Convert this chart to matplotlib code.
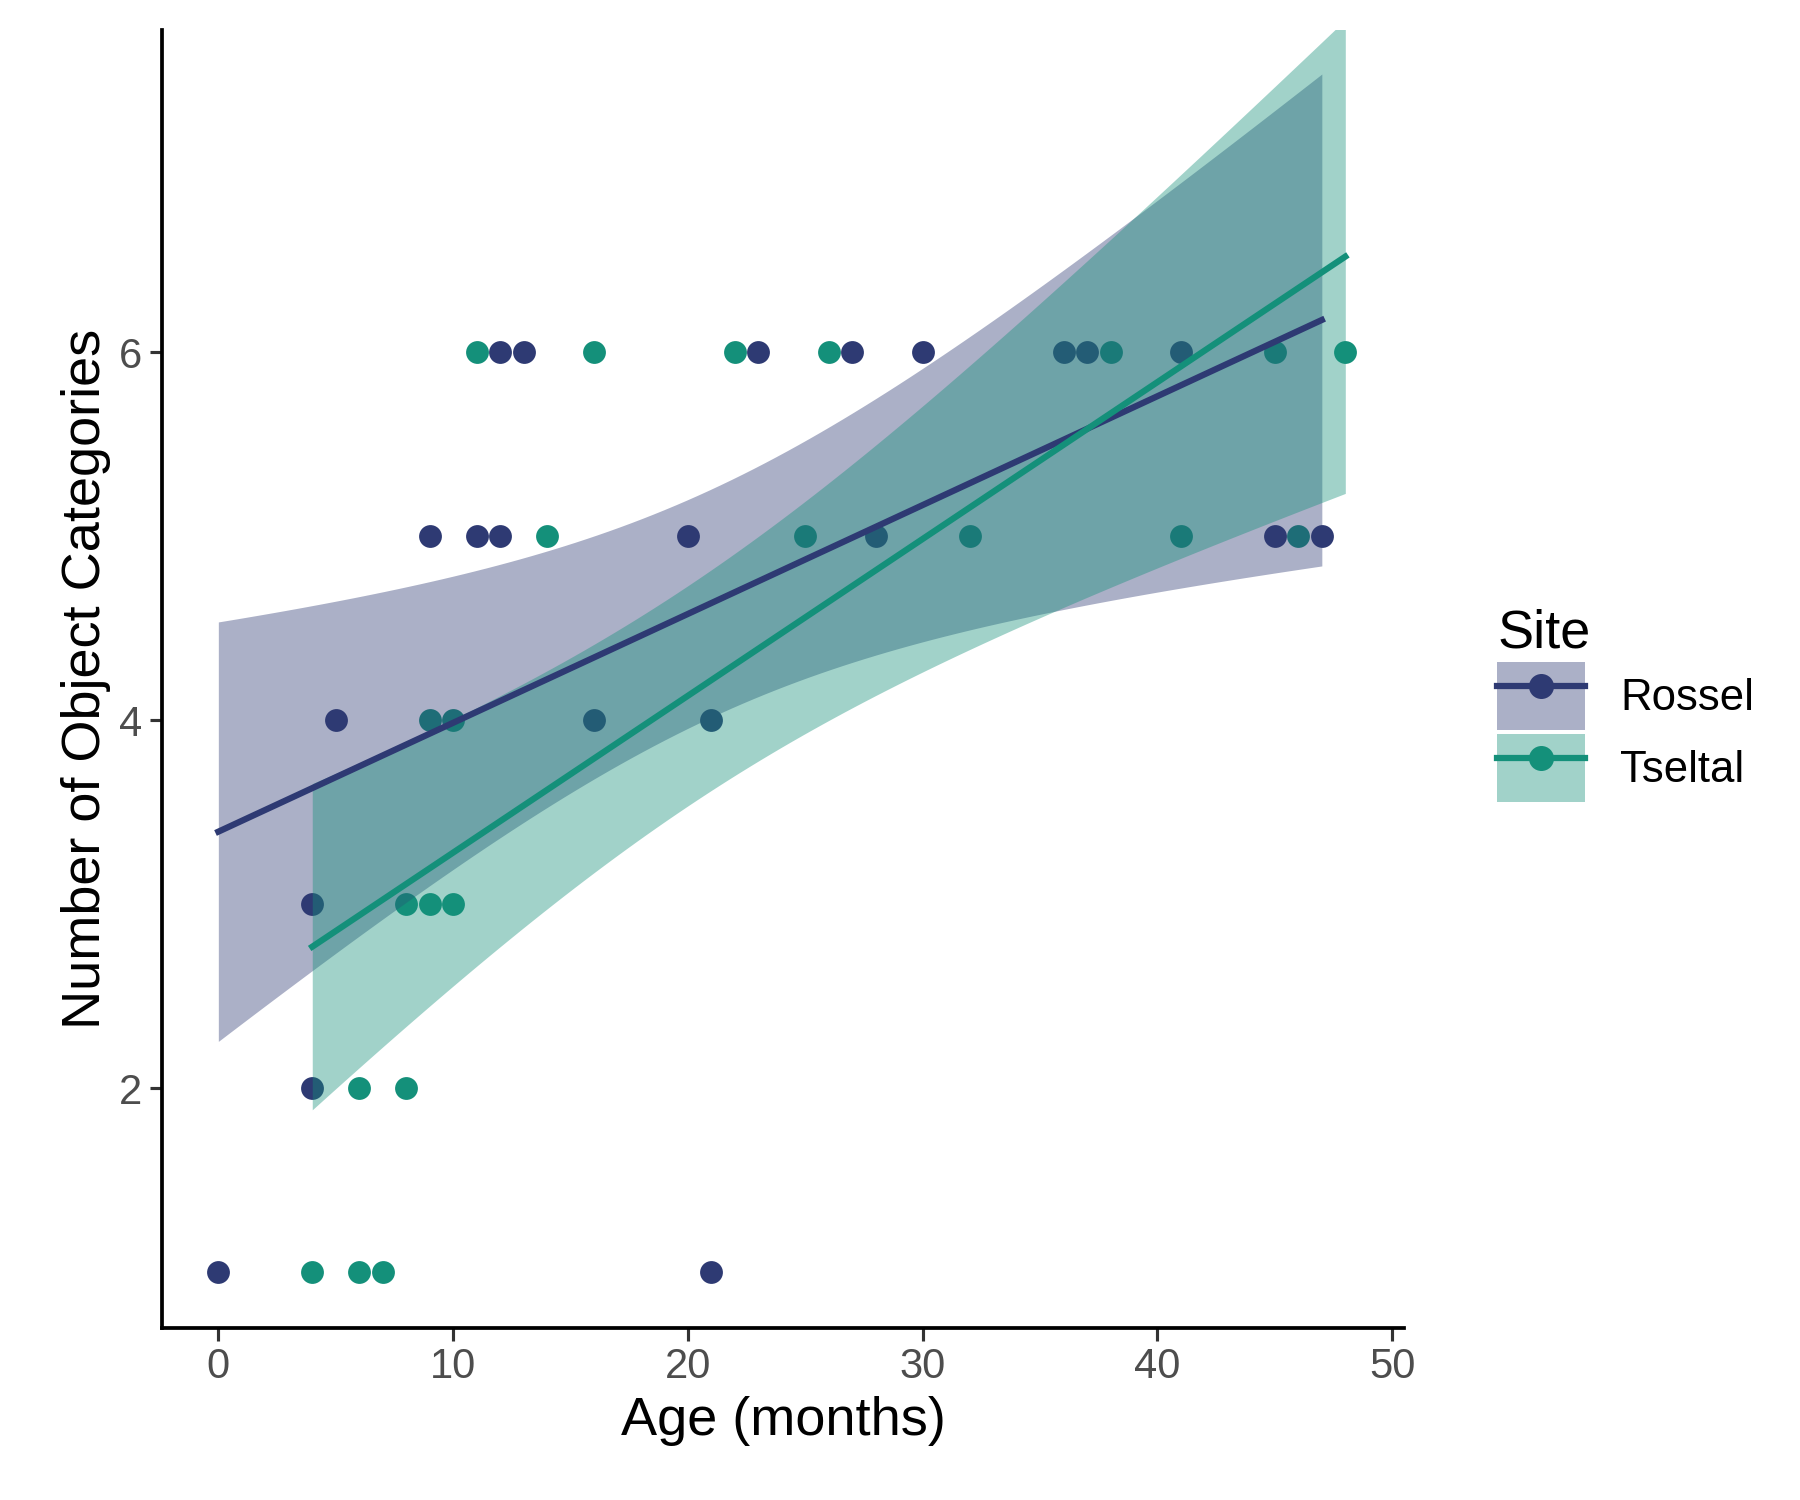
import numpy as np
import matplotlib
matplotlib.use("Agg")
from matplotlib import pyplot as plt
from matplotlib.patches import Patch
from matplotlib.lines import Line2D

ROSSEL_AGE = [0, 4, 4, 5, 9, 11, 12, 12, 13, 16, 20, 21, 21, 23, 27, 28, 30, 36, 37, 41, 45, 47]
ROSSEL_N = [1, 2, 3, 4, 5, 5, 5, 6, 6, 4, 5, 4, 1, 6, 6, 5, 6, 6, 6, 6, 5, 5]
TSELTAL_AGE = [4, 6, 7, 6, 8, 8, 9, 10, 9, 10, 11, 14, 16, 22, 25, 26, 32, 38, 41, 45, 46, 48]
TSELTAL_N = [1, 1, 1, 2, 2, 3, 3, 3, 4, 4, 6, 5, 6, 6, 5, 6, 5, 6, 5, 6, 5, 6]

SITES = ["Rossel", "Tseltal"]
COLORS = {"Rossel": "#2E3A73", "Tseltal": "#14907A"}
T95 = 2.086  # t quantile, df=20

plt.rcParams["font.family"] = ["Liberation Sans", "DejaVu Sans"]
fig = plt.figure(figsize=(12, 10), dpi=150)
ax = fig.add_axes([0.09, 0.115, 0.69, 0.865])


def fit_ci(x, y):
    x = np.asarray(x, float); y = np.asarray(y, float)
    b, a = np.polyfit(x, y, 1)
    xs = np.linspace(x.min(), x.max(), 100)
    resid = y - (a + b * x)
    s = np.sqrt(np.sum(resid ** 2) / (len(x) - 2))
    se = s * np.sqrt(1 / len(x) + (xs - x.mean()) ** 2 / np.sum((x - x.mean()) ** 2))
    fit = a + b * xs
    return xs, fit, fit - T95 * se, fit + T95 * se


data = {"Rossel": (ROSSEL_AGE, ROSSEL_N), "Tseltal": (TSELTAL_AGE, TSELTAL_N)}
for site in SITES:
    x, y = data[site]
    ax.scatter(x, y, s=120, color=COLORS[site], zorder=2, linewidths=0)
for site in SITES:
    x, y = data[site]
    xs, fit, lo, hi = fit_ci(x, y)
    ax.fill_between(xs, lo, hi, color=COLORS[site], alpha=0.4, linewidth=0, zorder=3)
    ax.plot(xs, fit, color=COLORS[site], lw=3, zorder=4)

ax.set_xlim(-2.4, 50.5)
ax.set_ylim(0.7, 7.75)
ax.set_xticks([0, 10, 20, 30, 40, 50])
ax.set_yticks([2, 4, 6])
for sp in ["top", "right"]:
    ax.spines[sp].set_visible(False)
for sp in ["left", "bottom"]:
    ax.spines[sp].set_linewidth(1.8)
ax.tick_params(labelsize=20, colors="#333333", width=1.5, length=6, labelcolor="#4D4D4D")
ax.set_xlabel("Age (months)", fontsize=26)
ax.set_ylabel("Number of Object Categories", fontsize=26)

handles = [(Patch(facecolor=COLORS[s], alpha=0.4, linewidth=0),
            Line2D([], [], color=COLORS[s], lw=3, marker="o", markersize=11)) for s in SITES]
leg = fig.legend(handles, SITES, loc="center left", bbox_to_anchor=(0.81, 0.53),
                 frameon=False, fontsize=21, title="Site", title_fontsize=26,
                 handlelength=2.0, handleheight=2.0, labelspacing=0.1, handletextpad=0.8)
leg._legend_box.align = "left"

fig.savefig("out.png", dpi=150)
